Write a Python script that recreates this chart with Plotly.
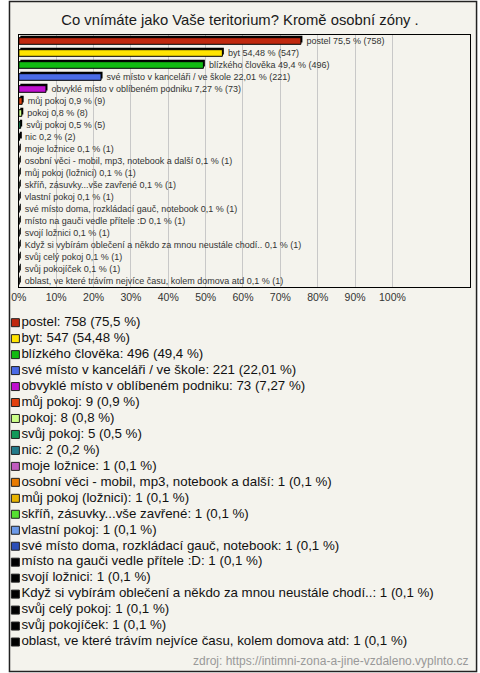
import plotly.graph_objects as go

title = "Co vnímáte jako Vaše teritorium? Kromě osobní zóny ."
source = "zdroj: https://intimni-zona-a-jine-vzdaleno.vyplnto.cz"

categories = [
    "postel",
    "byt",
    "blízkého člověka",
    "své místo v kanceláři / ve škole",
    "obvyklé místo v oblíbeném podniku",
    "můj pokoj",
    "pokoj",
    "svůj pokoj",
    "nic",
    "moje ložnice",
    "osobní věci - mobil, mp3, notebook a další",
    "můj pokoj (ložnici)",
    "skříň, zásuvky...vše zavřené",
    "vlastní pokoj",
    "své místo doma, rozkládací gauč, notebook",
    "místo na gauči vedle přítele :D",
    "svojí ložnici",
    "Když si vybírám oblečení a někdo za mnou neustále chodí..",
    "svůj celý pokoj",
    "svůj pokojíček",
    "oblast, ve které trávím nejvíce času, kolem domova atd",
]
counts = [758, 547, 496, 221, 73, 9, 8, 5, 2, 1, 1, 1, 1, 1, 1, 1, 1, 1, 1, 1, 1]
percents = [75.5, 54.48, 49.4, 22.01, 7.27, 0.9, 0.8, 0.5, 0.2, 0.1, 0.1, 0.1,
            0.1, 0.1, 0.1, 0.1, 0.1, 0.1, 0.1, 0.1, 0.1]
colors = ["#c0280e", "#ffe400", "#11bb11", "#4a6be6", "#c010d0", "#e2400e",
          "#ccff88", "#11995a", "#227a8a", "#c05bbf", "#e87a00", "#e8b400",
          "#55e030", "#6c9ae8", "#2c4fb8", "#000000", "#000000", "#000000",
          "#000000", "#000000", "#000000"]
tick_values = [0, 10, 20, 30, 40, 50, 60, 70, 80, 90, 100]
tick_labels = [f"{v}%" for v in tick_values]

W, H = 480, 673
FONT = "Liberation Sans, Arial, sans-serif"


def fmt(p):
    return str(p).replace(".", ",")


bar_text = ["\u00a0" + f"{c} {fmt(p)} % ({n})" for c, p, n in zip(categories, percents, counts)]
legend_text = [f"{c}: {n} ({fmt(p)} %)" for c, p, n in zip(categories, percents, counts)]

fig = go.Figure()

# depth / shadow of the pseudo-3D bars
fig.add_trace(go.Bar(
    x=percents, y=categories, orientation="h",
    base=[0.4] * len(percents),
    width=0.55, offset=-0.43,
    marker=dict(color="#000000", line=dict(width=0)),
    hoverinfo="skip", showlegend=False,
))
fig.add_trace(go.Bar(
    x=percents, y=categories, orientation="h",
    width=0.55, offset=-0.275,
    marker=dict(color=colors, line=dict(color="#000000", width=1)),
    text=bar_text, textposition="outside", constraintext="none",
    textfont=dict(size=9, color="#333333", family=FONT),
    cliponaxis=False, showlegend=False,
))

# custom legend below the plot
fig.add_trace(go.Scatter(
    x=[0] * len(categories), y=categories,
    mode="markers+text",
    marker=dict(symbol="square", size=8, color=colors, line=dict(color="#222222", width=1)),
    text=legend_text, textposition="middle right",
    textfont=dict(size=13.3, color="#111111", family=FONT),
    xaxis="x2", yaxis="y2", showlegend=False, hoverinfo="skip", cliponaxis=False,
))

fig.update_layout(
    width=W, height=H,
    margin=dict(l=0, r=0, t=0, b=0),
    paper_bgcolor="#ffffff",
    plot_bgcolor="#ffffff",
    barmode="overlay",
    font=dict(family=FONT, color="#333333"),
    title=dict(text=title, x=0.5, xanchor="center", y=1 - 20 / H, yanchor="middle",
               font=dict(size=14.8, color="#1a1a1a", family=FONT)),
    xaxis=dict(
        domain=[11 / W, 470 / W], range=[0, 120.8],
        tickvals=tick_values, ticktext=tick_labels,
        tickfont=dict(size=10.5, color="#333333"),
        showgrid=True, gridcolor="#c8c8c8", gridwidth=1,
        zeroline=False, showline=True, linecolor="#000000", linewidth=1, mirror=True,
        ticks="", fixedrange=True,
    ),
    yaxis=dict(
        domain=[1 - 287 / H, 1 - 35 / H],
        categoryorder="array", categoryarray=categories,
        range=[len(categories) - 0.5, -0.5],
        showticklabels=False, showgrid=False, zeroline=False,
        showline=True, linecolor="#000000", linewidth=1, mirror=True, ticks="",
    ),
    xaxis2=dict(domain=[0, 1], range=[-7.5, W - 7.5], visible=False, anchor="y2"),
    yaxis2=dict(domain=[1 - 650 / H, 1 - 314.7 / H],
                categoryorder="array", categoryarray=categories,
                range=[len(categories) - 0.5, -0.5], visible=False, anchor="x2"),
    shapes=[dict(type="rect", xref="paper", yref="paper",
                 x0=1.5 / W, x1=476.5 / W, y0=1 - 671.5 / H, y1=1 - 1.5 / H,
                 line=dict(color="#222222", width=1.5), fillcolor="#f4f3ed", layer="below")],
    annotations=[dict(text=source, xref="paper", yref="paper", x=470 / W, y=1 - 661 / H,
                      xanchor="right", yanchor="middle", showarrow=False,
                      font=dict(size=12, color="#999999", family=FONT))],
)

fig.write_html(
    "out.html",
    config={"displayModeBar": False},
    post_script="document.body.style.margin='0';document.body.style.padding='0';"
                "document.body.style.overflow='hidden';",
)
